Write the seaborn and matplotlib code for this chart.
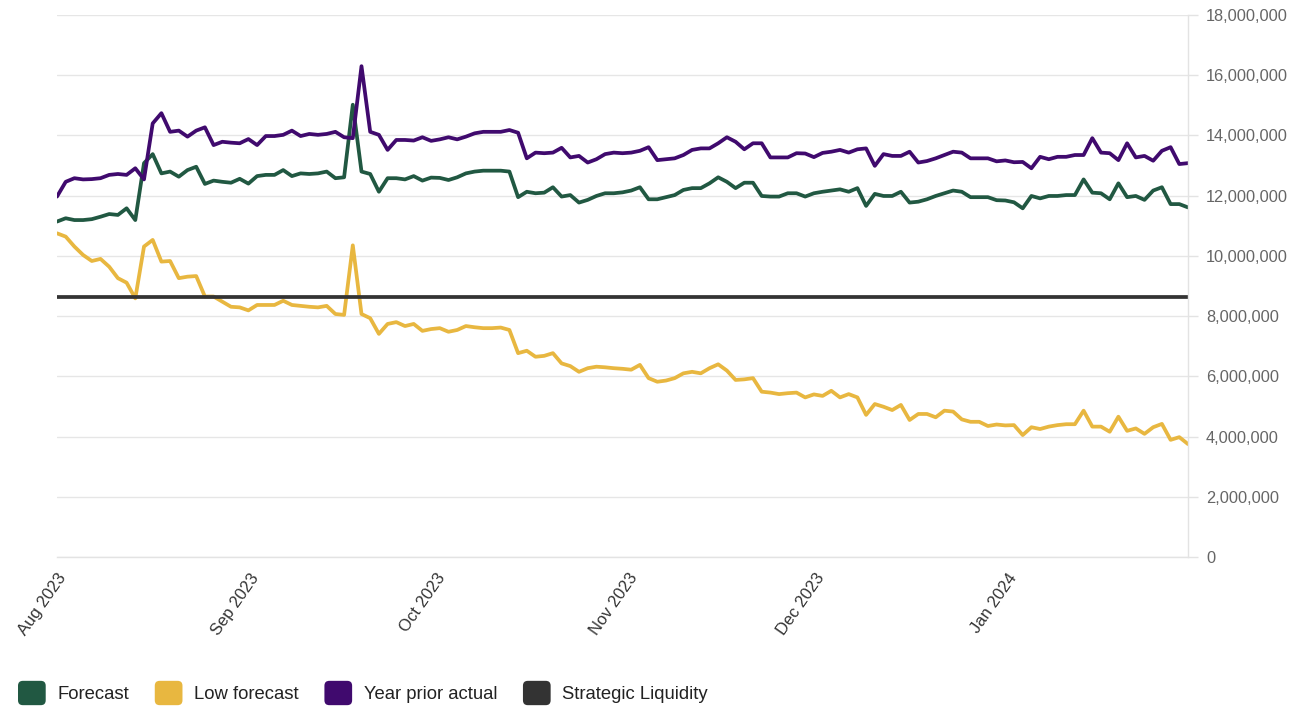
import numpy as np
import pandas as pd
import seaborn as sns
import matplotlib.pyplot as plt
import matplotlib.dates as mdates
import matplotlib.patches as mpatches
from matplotlib.legend_handler import HandlerPatch
from matplotlib.ticker import MultipleLocator, FuncFormatter

# Daily liquidity positions (millions), one value per business day Aug 2023 - Jan 2024
forecast = [
    11.14, 11.25, 11.19, 11.19, 11.22, 11.30, 11.39, 11.36, 11.58, 11.19,
    13.08, 13.38, 12.74, 12.80, 12.63, 12.85, 12.96, 12.39, 12.50, 12.46,
    12.43, 12.56, 12.40, 12.65, 12.69, 12.69, 12.85, 12.65, 12.74, 12.72,
    12.74, 12.80, 12.58, 12.61, 15.02, 12.80, 12.72, 12.13, 12.58, 12.58,
    12.54, 12.65, 12.50, 12.60, 12.59, 12.52, 12.61, 12.74, 12.80, 12.83,
    12.83, 12.83, 12.80, 11.95, 12.13, 12.08, 12.10, 12.28, 11.97, 12.02,
    11.77, 11.86, 11.99, 12.08, 12.08, 12.11, 12.17, 12.28, 11.88, 11.88,
    11.95, 12.02, 12.19, 12.25, 12.25, 12.41, 12.61, 12.46, 12.25, 12.43,
    12.43, 11.99, 11.97, 11.97, 12.08, 12.08, 11.97, 12.08, 12.13, 12.17,
    12.21, 12.13, 12.25, 11.66, 12.06, 11.99, 11.99, 12.13, 11.77, 11.80,
    11.88, 11.99, 12.08, 12.17, 12.13, 11.95, 11.95, 11.95, 11.85, 11.84,
    11.78, 11.58, 11.99, 11.91, 11.99, 11.99, 12.02, 12.02, 12.54, 12.10,
    12.08, 11.88, 12.41, 11.95, 11.99, 11.86, 12.17, 12.28, 11.72, 11.72,
    11.61,
]

low_forecast = [
    10.75, 10.64, 10.31, 10.03, 9.83, 9.90, 9.64, 9.26, 9.11, 8.59,
    10.31, 10.53, 9.81, 9.83, 9.26, 9.31, 9.33, 8.65, 8.65, 8.48,
    8.31, 8.29, 8.19, 8.37, 8.37, 8.37, 8.51, 8.37, 8.34, 8.31,
    8.29, 8.34, 8.07, 8.04, 10.35, 8.07, 7.93, 7.41, 7.74, 7.80,
    7.67, 7.74, 7.51, 7.57, 7.60, 7.48, 7.54, 7.67, 7.63, 7.60,
    7.60, 7.62, 7.54, 6.77, 6.85, 6.65, 6.68, 6.77, 6.43, 6.34,
    6.15, 6.27, 6.32, 6.30, 6.27, 6.25, 6.22, 6.38, 5.94, 5.82,
    5.86, 5.94, 6.10, 6.15, 6.10, 6.27, 6.40, 6.19, 5.88, 5.90,
    5.94, 5.49, 5.46, 5.41, 5.44, 5.46, 5.30, 5.40, 5.35, 5.52,
    5.30, 5.41, 5.30, 4.72, 5.08, 4.99, 4.88, 5.05, 4.55, 4.75,
    4.75, 4.64, 4.86, 4.83, 4.57, 4.49, 4.49, 4.35, 4.40, 4.37,
    4.38, 4.05, 4.31, 4.25, 4.33, 4.38, 4.41, 4.41, 4.86, 4.33,
    4.33, 4.16, 4.66, 4.19, 4.27, 4.09, 4.31, 4.42, 3.89, 3.98,
    3.75,
]

year_prior_actual = [
    11.97, 12.46, 12.58, 12.54, 12.55, 12.58, 12.69, 12.72, 12.69, 12.91,
    12.54, 14.40, 14.74, 14.12, 14.16, 13.96, 14.16, 14.27, 13.68, 13.79,
    13.76, 13.74, 13.88, 13.68, 13.98, 13.98, 14.02, 14.16, 13.98, 14.05,
    14.02, 14.05, 14.12, 13.94, 13.91, 16.30, 14.12, 14.02, 13.52, 13.85,
    13.85, 13.83, 13.94, 13.82, 13.87, 13.94, 13.87, 13.96, 14.07, 14.12,
    14.12, 14.12, 14.18, 14.09, 13.24, 13.43, 13.41, 13.43, 13.59, 13.27,
    13.32, 13.10, 13.21, 13.38, 13.43, 13.41, 13.43, 13.49, 13.61, 13.18,
    13.21, 13.24, 13.35, 13.52, 13.57, 13.57, 13.74, 13.94, 13.79, 13.54,
    13.74, 13.74, 13.27, 13.27, 13.27, 13.41, 13.40, 13.28, 13.42, 13.46,
    13.52, 13.43, 13.54, 13.57, 12.99, 13.38, 13.32, 13.32, 13.46, 13.10,
    13.15, 13.24, 13.35, 13.46, 13.43, 13.24, 13.24, 13.24, 13.14, 13.17,
    13.11, 13.12, 12.91, 13.29, 13.21, 13.29, 13.29, 13.35, 13.35, 13.91,
    13.43, 13.41, 13.18, 13.74, 13.27, 13.32, 13.16, 13.49, 13.61, 13.05,
    13.08,
]

strategic_liquidity = 8.63

series_names = ["Forecast", "Low forecast", "Year prior actual", "Strategic Liquidity"]
series_colors = ["#215842", "#E8B740", "#400A6E", "#333333"]
month_labels_fmt = "%b %Y"

# Observations are spread evenly across the reporting window
dates = pd.date_range("2023-08-01", "2024-01-30", periods=len(forecast))

wide = pd.DataFrame({
    "date": dates,
    "Forecast": forecast,
    "Low forecast": low_forecast,
    "Year prior actual": year_prior_actual,
    "Strategic Liquidity": [strategic_liquidity] * len(dates),
})
long = wide.melt(id_vars="date", var_name="series", value_name="value")
long["value"] = long["value"] * 1e6

sns.set_theme(style="white")
plt.rcParams["font.family"] = ["Liberation Sans", "DejaVu Sans"]

fig = plt.figure(figsize=(12.89, 7.06), dpi=100)
ax = fig.add_axes([57 / 1289, 1 - 557 / 706, (1188 - 57) / 1289, (557 - 15) / 706])

palette = dict(zip(series_names, series_colors))
sns.lineplot(data=long, x="date", y="value", hue="series", hue_order=series_names,
             palette=palette, linewidth=2.7, legend=False, sort=False, ax=ax)
for ln in ax.lines:
    ln.set_solid_joinstyle("round")

ax.set_xlim(dates[0], dates[-1])
ax.set_ylim(0, 18e6)
ax.set_xlabel("")
ax.set_ylabel("")

ax.yaxis.set_major_locator(MultipleLocator(2e6))
ax.yaxis.set_major_formatter(FuncFormatter(lambda v, p: f"{int(round(v)):,}"))
ax.yaxis.tick_right()
ax.tick_params(axis="y", length=7, width=1, color="#e3e3e3", labelsize=11.8,
               labelcolor="#666666", pad=6)
ax.grid(axis="y", color="#e6e6e6", linewidth=1)
ax.grid(axis="x", visible=False)
ax.set_axisbelow(True)

for side in ("left", "top"):
    ax.spines[side].set_visible(False)
ax.spines["right"].set_color("#e3e3e3")
ax.spines["bottom"].set_color("#e3e3e3")
ax.spines["right"].set_linewidth(1)
ax.spines["bottom"].set_linewidth(1)

ax.xaxis.set_major_locator(mdates.MonthLocator())
ax.xaxis.set_major_formatter(mdates.DateFormatter(month_labels_fmt))
ax.tick_params(axis="x", length=0, labelsize=12, labelcolor="#333333", pad=10)
plt.setp(ax.get_xticklabels(), rotation=55, ha="right", va="top",
         rotation_mode="anchor")


class RoundedSwatch(HandlerPatch):
    """Legend swatch drawn as a small rounded square."""

    def create_artists(self, legend, orig_handle, xdescent, ydescent,
                       width, height, fontsize, trans):
        patch = mpatches.FancyBboxPatch(
            (-xdescent, -ydescent), width, height,
            boxstyle="round,pad=0,rounding_size=3.5",
            facecolor=orig_handle.get_facecolor(), edgecolor="none",
            transform=trans)
        return [patch]


handles = [mpatches.Patch(facecolor=c, edgecolor=c) for c in series_colors]
fig.legend(handles, series_names, loc="center left",
           bbox_to_anchor=(18 / 1289, 1 - 693 / 706), ncol=4, frameon=False,
           fontsize=13.3, labelcolor="#222222",
           handlelength=1.5, handleheight=1.65, handletextpad=0.62,
           columnspacing=1.4, borderpad=0, borderaxespad=0,
           handler_map={mpatches.Patch: RoundedSwatch()})

fig.savefig("out.png", dpi=100, facecolor="white")
